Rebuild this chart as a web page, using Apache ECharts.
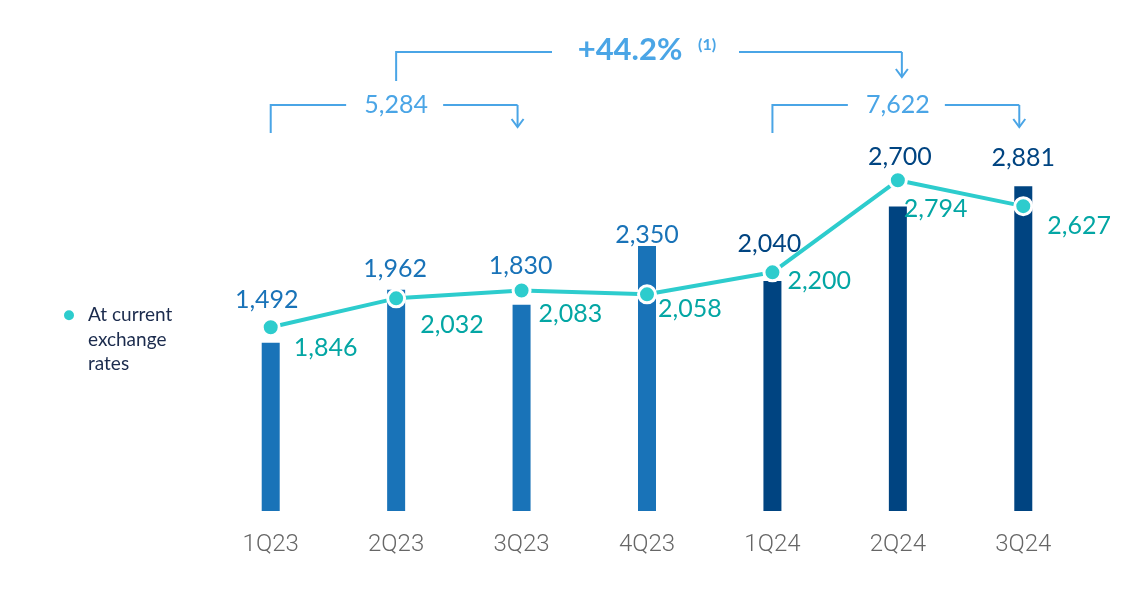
<!DOCTYPE html>
<html>
<head>
<meta charset="utf-8">
<script src="https://cdn.jsdelivr.net/npm/echarts@6/dist/echarts.min.js"></script>
<style>
html,body{margin:0;padding:0;background:#fff;}
#chart{width:1146px;height:594px;}
</style>
</head>
<body>
<div id="chart"></div>
<script>
const categories = ['1Q23', '2Q23', '3Q23', '4Q23', '1Q24', '2Q24', '3Q24'];
const barValues = [1492, 1962, 1830, 2350, 2040, 2700, 2881];
const lineValues = [1846, 2032, 2083, 2058, 2200, 2794, 2627];
const lineName = 'At current exchange rates';
const brackets = [
  { from: 0, to: 2, text: '5,284' },
  { from: 4, to: 6, text: '7,622' }
];
const growth = { from: 1, to: 5, text: '+44.2%', note: '(1)' };

// layout / style config
const LIGHT = '#1973b8', DARK = '#004481', TEAL = '#2dcccd', TEAL_TXT = '#03a6a4', ANN = '#4aa5e6';
const darkFrom = 4;
const barLabelOffsets = [[-4, -25], [-1, -3], [-1, -21], [0, 6], [-3, -20], [2, -32], [0, -11]];
const lineLabelOffsets = [[8, 21], [9, 27], [2, 23], [-4, 15], [0, 9], [-9, 29], [9, 20]];
const fmt = v => v.toLocaleString('en-US');

const chart = echarts.init(document.getElementById('chart'));
const numFont = { fontFamily: 'Lato', fontSize: 25 };

chart.setOption({
  animation: false,
  backgroundColor: '#fff',
  grid: { left: 208, right: 60, top: 60, bottom: 83 },
  legend: {
    left: 57, top: 249, padding: 5,
    orient: 'vertical',
    icon: 'circle', itemWidth: 12, itemHeight: 12,
    data: [lineName],
    formatter: () => '\n\nAt current\nexchange\nrates',
    textStyle: { fontFamily: 'Lato', fontSize: 19, color: '#1b2b4d', lineHeight: 24.5, padding: [0, 0, 0, 8] }
  },
  xAxis: {
    type: 'category', data: categories,
    axisLine: { show: false }, axisTick: { show: false },
    axisLabel: { margin: 22, fontFamily: 'Roboto', fontWeight: 300, fontSize: 24, color: '#666666' }
  },
  yAxis: [
    { type: 'value', min: 0, max: 4000, show: false },
    { type: 'value', min: 660, max: 3570, show: false }
  ],
  series: [
    {
      type: 'bar', yAxisIndex: 0, barWidth: 18, z: 1,
      data: barValues.map((v, i) => ({
        value: v,
        itemStyle: { color: i >= darkFrom ? DARK : LIGHT },
        label: {
          show: true, position: 'top', offset: barLabelOffsets[i],
          formatter: p => fmt(p.value), ...numFont,
          color: i >= darkFrom ? DARK : LIGHT
        }
      }))
    },
    {
      type: 'line', name: lineName, yAxisIndex: 1, z: 3,
      symbol: 'circle', symbolSize: 17,
      lineStyle: { color: TEAL, width: 4 },
      itemStyle: { color: TEAL, borderColor: '#fff', borderWidth: 3 },
      data: lineValues.map((v, i) => ({
        value: v,
        label: {
          show: true, position: 'right', offset: lineLabelOffsets[i],
          formatter: p => fmt(p.value), ...numFont, color: TEAL_TXT
        }
      }))
    }
  ]
});

// annotation brackets, positioned from the category axis
const px = i => chart.convertToPixel({ xAxisIndex: 0 }, categories[i]);
const ls = { stroke: ANN, lineWidth: 2, fill: null };
const g = [];
function arrow(x, yTop, yTip) {
  g.push({ type: 'polyline', shape: { points: [[x, yTop], [x, yTip]] }, style: ls, silent: true });
  g.push({ type: 'polyline', shape: { points: [[x - 6, yTip - 8], [x, yTip], [x + 6, yTip - 8]] }, style: ls, silent: true });
}
brackets.forEach(b => {
  const x0 = px(b.from), x1 = px(b.to), xm = px(Math.round((b.from + b.to) / 2));
  const y = 105;
  g.push({ type: 'polyline', shape: { points: [[x0, 133], [x0, y], [xm - 50, y]] }, style: ls, silent: true });
  g.push({ type: 'polyline', shape: { points: [[xm + 47, y], [x1 - 4, y]] }, style: ls, silent: true });
  arrow(x1 - 4, y, 127);
  g.push({ type: 'text', x: xm, y: y, style: { text: b.text, fontFamily: 'Lato', fontSize: 25, fill: ANN, align: 'center', verticalAlign: 'middle' } });
});
(function () {
  const x0 = px(growth.from), x1 = px(growth.to), xm = (x0 + x1) / 2;
  const y = 52;
  g.push({ type: 'polyline', shape: { points: [[x0, 81], [x0, y], [xm - 95, y]] }, style: ls, silent: true });
  g.push({ type: 'polyline', shape: { points: [[xm + 92, y], [x1 + 4, y]] }, style: ls, silent: true });
  arrow(x1 + 4, y, 77);
  g.push({ type: 'text', x: xm - 17, y: 50, style: { text: growth.text, fontFamily: 'Lato', fontWeight: 'bold', fontSize: 31, fill: ANN, align: 'center', verticalAlign: 'middle' } });
  g.push({ type: 'text', x: xm + 51, y: 45, style: { text: growth.note, fontFamily: 'Lato', fontWeight: 'bold', fontSize: 16, fill: ANN, align: 'left', verticalAlign: 'middle' } });
})();
chart.setOption({ graphic: g });
</script>
</body>
</html>
